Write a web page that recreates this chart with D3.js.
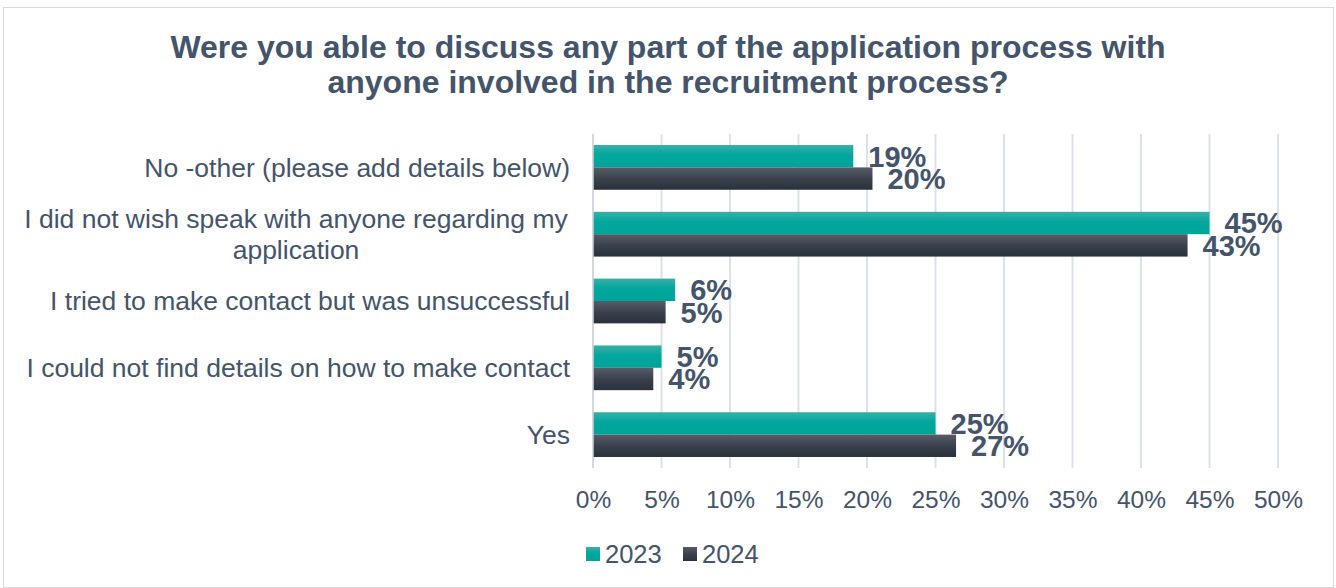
<!DOCTYPE html>
<html>
<head>
<meta charset="utf-8">
<script src="https://cdn.jsdelivr.net/npm/d3@7"></script>
<style>
  body { margin: 0; background: #fff; }
  svg { font-family: "Liberation Sans", Arial, sans-serif; }
</style>
</head>
<body>
<div id="chart"></div>
<script>
// chart data
const categories = [
  'No -other (please add details below)',
  'I did not wish speak with anyone regarding my application',
  'I tried to make contact but was unsuccessful',
  'I could not find details on how to make contact',
  'Yes'
];
const categoryLines = [
  ['No -other (please add details below)'],
  ['I did not wish speak with anyone regarding my', 'application'],
  ['I tried to make contact but was unsuccessful'],
  ['I could not find details on how to make contact'],
  ['Yes']
];
const seriesNames = ['2023', '2024'];
const values2023 = [19.0, 45.0, 6.0, 5.0, 25.0];
const values2024 = [20.4, 43.4, 5.3, 4.4, 26.5];
const labels2023 = ['19%', '45%', '6%', '5%', '25%'];
const labels2024 = ['20%', '43%', '5%', '4%', '27%'];
const xTicks = [0, 5, 10, 15, 20, 25, 30, 35, 40, 45, 50];

const width = 1336, height = 588;
const margin = { top: 134, right: 58, bottom: 120, left: 593 };
const textColor = '#44546a';

const svg = d3.select('#chart').append('svg')
  .attr('width', width)
  .attr('height', height);

const defs = svg.append('defs');
const gTeal = defs.append('linearGradient').attr('id', 'g2023')
  .attr('x1', 0).attr('y1', 0).attr('x2', 0).attr('y2', 1);
gTeal.append('stop').attr('offset', '0%').attr('stop-color', '#3aafa8');
gTeal.append('stop').attr('offset', '45%').attr('stop-color', '#00a79c');
gTeal.append('stop').attr('offset', '100%').attr('stop-color', '#00a499');
const gDark = defs.append('linearGradient').attr('id', 'g2024')
  .attr('x1', 0).attr('y1', 0).attr('x2', 0).attr('y2', 1);
gDark.append('stop').attr('offset', '0%').attr('stop-color', '#575d68');
gDark.append('stop').attr('offset', '50%').attr('stop-color', '#3a414d');
gDark.append('stop').attr('offset', '100%').attr('stop-color', '#28313d');

// outer border
svg.append('rect')
  .attr('x', 3.5).attr('y', 7.5)
  .attr('width', width - 6).attr('height', height - 8)
  .attr('fill', '#fff')
  .attr('stroke', '#d9d9d9');

// title
svg.append('text')
  .attr('x', 668)
  .attr('text-anchor', 'middle')
  .attr('fill', textColor)
  .attr('font-weight', 'bold')
  .attr('font-size', 32)
  .selectAll('tspan')
  .data(['Were you able to discuss any part of the application process with',
         'anyone involved in the recruitment process?'])
  .join('tspan')
  .attr('x', 668)
  .attr('y', (d, i) => 58 + i * 35)
  .text(d => d);

const innerW = width - margin.left - margin.right;
const innerH = height - margin.top - margin.bottom;

const x = d3.scaleLinear().domain([0, 50]).range([0, 685]);
const y = d3.scaleBand().domain(categories).range([0, innerH]).paddingInner(0.33).paddingOuter(0.165);
const ySub = d3.scaleBand().domain(seriesNames).range([0, y.bandwidth()]);

const chart = svg.append('g')
  .attr('transform', 'translate(' + margin.left + ',' + margin.top + ')');

// gridlines
chart.append('g')
  .selectAll('line')
  .data(xTicks)
  .join('line')
  .attr('x1', d => x(d)).attr('x2', d => x(d))
  .attr('y1', 0).attr('y2', innerH)
  .attr('stroke', '#dde1e8')
  .attr('stroke-width', 2);

// x axis labels
const xAxis = d3.axisBottom(x).tickValues(xTicks).tickFormat(d => d + '%').tickSize(0).tickPadding(23);
const xg = chart.append('g')
  .attr('transform', 'translate(0,' + innerH + ')')
  .call(xAxis);
xg.select('.domain').remove();
xg.selectAll('text')
  .attr('fill', textColor)
  .attr('font-size', 24.5)
  .attr('font-family', '"Liberation Sans", Arial, sans-serif');

// category labels
const yg = chart.append('g');
categories.forEach((c, i) => {
  const lines = categoryLines[i];
  const cy = y(c) + y.bandwidth() / 2;
  const lh = 31;
  const t = yg.append('text')
    .attr('text-anchor', lines.length > 1 ? 'middle' : 'end')
    .attr('fill', textColor)
    .attr('font-size', 26.5);
  lines.forEach((l, j) => {
    t.append('tspan')
      .attr('x', lines.length > 1 ? -297 : -23)
      .attr('y', cy + (j - (lines.length - 1) / 2) * lh)
      .attr('dy', '0.35em')
      .text(l);
  });
});

// bars
const series = [
  { name: '2023', values: values2023, labels: labels2023 },
  { name: '2024', values: values2024, labels: labels2024 }
];
series.forEach(s => {
  const g = chart.append('g');
  g.selectAll('rect')
    .data(categories)
    .join('rect')
    .attr('x', 0)
    .attr('y', (d, i) => y(d) + ySub(s.name))
    .attr('width', (d, i) => x(s.values[i]))
    .attr('height', ySub.bandwidth())
    .attr('fill', 'url(#g' + s.name + ')');
});

// y axis line
chart.append('line')
  .attr('x1', 0).attr('x2', 0)
  .attr('y1', 0).attr('y2', innerH)
  .attr('stroke', '#d0d4da')
  .attr('stroke-width', 1.5);

// data labels
series.forEach(s => {
  chart.append('g')
    .selectAll('text')
    .data(categories)
    .join('text')
    .attr('x', (d, i) => x(s.values[i]) + 15)
    .attr('y', (d, i) => y(d) + ySub(s.name) + ySub.bandwidth() / 2)
    .attr('dy', '0.36em')
    .attr('fill', textColor)
    .attr('font-weight', 'bold')
    .attr('font-size', 29)
    .text((d, i) => s.labels[i]);
});

// legend
const legend = svg.append('g').attr('transform', 'translate(586,554)');
const legendX = [0, 97];
seriesNames.forEach((n, i) => {
  const lg = legend.append('g').attr('transform', 'translate(' + legendX[i] + ',0)');
  lg.append('rect')
    .attr('x', 0).attr('y', -7)
    .attr('width', 14).attr('height', 14)
    .attr('fill', 'url(#g' + n + ')');
  lg.append('text')
    .attr('x', 19)
    .attr('dy', '0.35em')
    .attr('fill', textColor)
    .attr('font-size', 25.5)
    .text(n);
});
</script>
</body>
</html>
